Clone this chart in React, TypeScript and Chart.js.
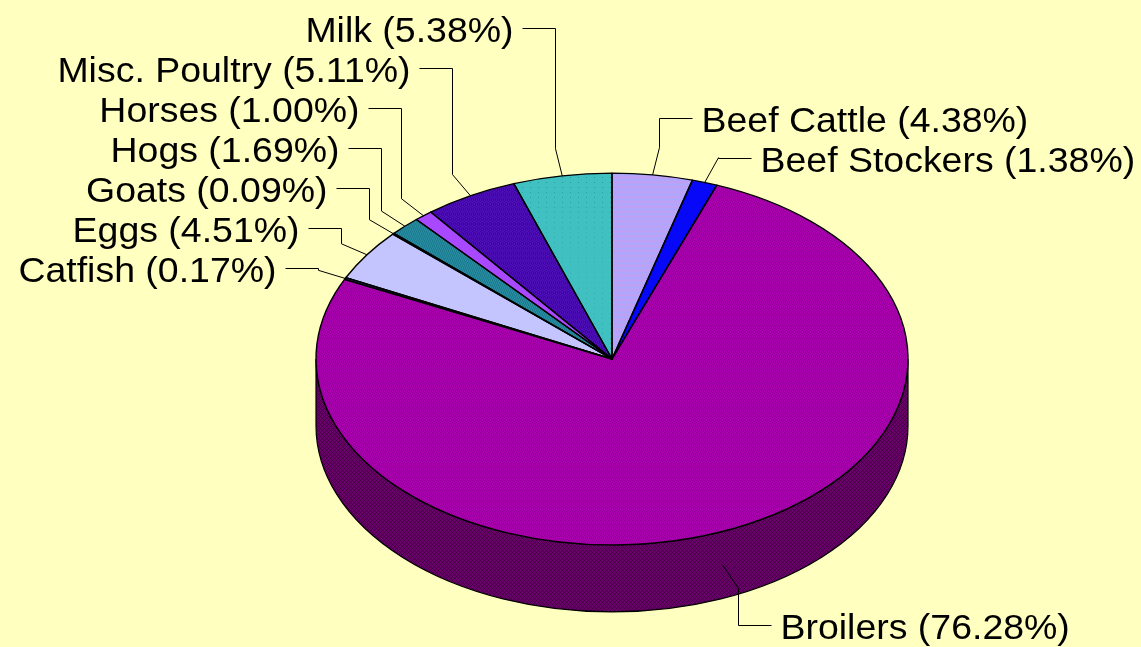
import React, { useEffect, useRef } from 'react';
import { Chart, registerables } from 'chart.js';

Chart.register(...registerables);

// ---- data ----
const categories = [
  'Beef Cattle',
  'Beef Stockers',
  'Broilers',
  'Catfish',
  'Eggs',
  'Goats',
  'Hogs',
  'Horses',
  'Misc. Poultry',
  'Milk',
];
const shares = [4.38, 1.38, 76.28, 0.17, 4.51, 0.09, 1.69, 1.0, 5.11, 5.38];

// ---- styles ----
const topBase = ['#a8a8ff', '#0808f8', '#b000b4', '#203870', '#c4c4ff', '#105858', '#2c90a8', '#a848ff', '#5010b8', '#40c0c0'];
const topInk = ['#c4a0f4', '#0808f8', '#880090', '#203870', '#c4c4ff', '#105858', '#187888', '#a848ff', '#3800a0', '#209c9c'];
const topTexture = ['checker', 'solid', 'cross', 'solid', 'solid', 'solid', 'checker', 'solid', 'cross', 'dots'];
const sideBase = ['#6a66a0', '#000098', '#6a006a', '#101838', '#7a7aa0', '#083030', '#185868', '#6a28a0', '#300870', '#287878'];
const sideInk = ['#5a5690', '#000088', '#420042', '#101838', '#6a6a90', '#083030', '#104858', '#5a1890', '#200060', '#186868'];

const BG = '#ffffc0';
const W = 1141;
const H = 647;
const PIE_LEFT = 316;
const RX = 296;
const CENTER_Y = 359;
const TILT = 0.628;
const DEPTH = 67;
const LEFT_ROW_TOP = 28;
const RIGHT_ROW_TOP = 118;
const ROW_STEP = 40;
const BOTTOM_DROP = 60;
const LEADER_EXT = 28;
const LEADER_RUN = 33;
const TEXT_GAP = 9;
const FONT_PX = 35;
const TEXT_STRETCH = 1.07;
const FONT = `${FONT_PX}px "Liberation Sans", Arial, sans-serif`;

function makePattern(base: string, ink: string, kind: string): any {
  if (kind === 'solid') return base;
  const size = kind === 'dots' ? 8 : 4;
  const c = document.createElement('canvas');
  c.width = size;
  c.height = size;
  const g = c.getContext('2d')!;
  g.fillStyle = base;
  g.fillRect(0, 0, size, size);
  g.fillStyle = ink;
  for (let y = 0; y < size; y++) {
    for (let x = 0; x < size; x++) {
      let on = false;
      if (kind === 'cross') on = (x + y) % 4 === 0 || (x - y + 4) % 4 === 0;
      else if (kind === 'dots') on = x === 2 && y === 2;
      else if (kind === 'checker') on = (x + y) % 2 === 0;
      if (on) g.fillRect(x, y, 1, 1);
    }
  }
  return g.createPattern(c, 'repeat');
}

function geometry(chart: any) {
  const meta = chart.getDatasetMeta(0);
  const arcs = meta.data as any[];
  const p = arcs[0].getProps(['x', 'y', 'outerRadius'], true);
  return { arcs, px: p.x, py: p.y, cx: p.x, cy: CENTER_Y, rx: p.outerRadius, ry: p.outerRadius * TILT };
}

function makePie3dPlugin(sideFills: any[]) {
  return {
    id: 'pie3d',
    beforeDatasetsDraw(chart: any) {
      const ctx = chart.ctx as CanvasRenderingContext2D;
      const { arcs, px, py, cx, cy, rx, ry } = geometry(chart);
      // side wall for the front half
      arcs.forEach((arc, i) => {
        const { startAngle, endAngle } = arc.getProps(['startAngle', 'endAngle'], true);
        for (let k = -1; k <= 1; k++) {
          const lo = Math.max(startAngle, 2 * Math.PI * k);
          const hi = Math.min(endAngle, Math.PI + 2 * Math.PI * k);
          if (hi > lo) {
            ctx.beginPath();
            ctx.ellipse(cx, cy, rx, ry, 0, lo, hi);
            ctx.ellipse(cx, cy + DEPTH, rx, ry, 0, hi, lo, true);
            ctx.closePath();
            ctx.fillStyle = sideFills[i];
            ctx.fill();
            ctx.strokeStyle = '#000';
            ctx.lineWidth = 1.2;
            ctx.stroke();
          }
        }
      });
      ctx.save();
      ctx.translate(cx, cy);
      ctx.scale(1, TILT);
      ctx.translate(-px, -py);
    },
    afterDatasetsDraw(chart: any) {
      const ctx = chart.ctx as CanvasRenderingContext2D;
      ctx.restore();
      const { arcs, cx, cy, rx, ry } = geometry(chart);
      // slice outlines
      ctx.strokeStyle = '#000';
      ctx.lineWidth = 1.4;
      ctx.lineJoin = 'round';
      arcs.forEach((arc) => {
        const { startAngle, endAngle } = arc.getProps(['startAngle', 'endAngle'], true);
        ctx.beginPath();
        ctx.moveTo(cx, cy);
        ctx.ellipse(cx, cy, rx, ry, 0, startAngle, endAngle);
        ctx.closePath();
        ctx.stroke();
      });

      // labels with leader lines
      type Lab = { i: number; ax: number; ay: number; ex: number; ey: number; side: number; row: number; front: boolean };
      const labs: Lab[] = arcs.map((arc, i) => {
        const { startAngle, endAngle } = arc.getProps(['startAngle', 'endAngle'], true);
        const mid = (startAngle + endAngle) / 2;
        const ux = Math.cos(mid);
        const uy = Math.sin(mid);
        const front = uy > 0.2;
        const ax = cx + rx * ux;
        const ay = cy + ry * uy + (front ? DEPTH / 2 : 0);
        const len = Math.hypot(rx * ux, ry * uy);
        const ex = ax + (LEADER_EXT * rx * ux) / len;
        const ey = ay + (LEADER_EXT * ry * uy) / len;
        return { i, ax, ay, ex, ey, side: ux >= 0 ? 1 : -1, row: 0, front };
      });
      const left = labs.filter((l) => !l.front && l.side < 0).sort((a, b) => a.ey - b.ey);
      const right = labs.filter((l) => !l.front && l.side > 0).sort((a, b) => a.ey - b.ey);
      left.forEach((l, k) => (l.row = LEFT_ROW_TOP + ROW_STEP * k));
      right.forEach((l, k) => (l.row = RIGHT_ROW_TOP + ROW_STEP * k));
      labs.filter((l) => l.front).forEach((l) => (l.row = l.ay + BOTTOM_DROP));

      ctx.lineWidth = 1;
      ctx.strokeStyle = '#000';
      ctx.fillStyle = '#000';
      ctx.font = FONT;
      ctx.textBaseline = 'middle';
      labs.forEach((l) => {
        const rowY = Math.round(l.row) + 0.5;
        const ex = Math.round(l.ex) + 0.5;
        const endX = ex + l.side * LEADER_RUN;
        ctx.beginPath();
        ctx.moveTo(l.ax, l.ay);
        ctx.lineTo(ex, l.ey);
        ctx.lineTo(ex, rowY);
        ctx.lineTo(endX, rowY);
        ctx.stroke();
        const text = `${categories[l.i]} (${shares[l.i].toFixed(2)}%)`;
        ctx.save();
        ctx.translate(endX + l.side * TEXT_GAP, l.row + 4);
        ctx.scale(TEXT_STRETCH, 1);
        ctx.textAlign = l.side > 0 ? 'left' : 'right';
        ctx.fillText(text, 0, 0);
        ctx.restore();
      });
    },
  };
}

export default function App() {
  const ref = useRef<HTMLCanvasElement | null>(null);
  useEffect(() => {
    document.body.style.margin = '0';
    document.body.style.background = BG;
    const canvas = ref.current!;
    const topFills = categories.map((_, i) => makePattern(topBase[i], topInk[i], topTexture[i]));
    const sideFills = categories.map((_, i) => makePattern(sideBase[i], sideInk[i], topTexture[i] === 'solid' ? 'solid' : 'cross'));
    const chart = new Chart(canvas, {
      type: 'pie',
      data: {
        labels: categories,
        datasets: [
          {
            data: shares,
            backgroundColor: topFills,
            borderWidth: 0,
            clip: false,
          } as any,
        ],
      },
      options: {
        responsive: false,
        animation: false,
        events: [],
        layout: { padding: { left: PIE_LEFT, right: W - PIE_LEFT - 2 * RX, top: 0, bottom: 0 } },
        plugins: { legend: { display: false }, tooltip: { enabled: false } },
      },
      plugins: [makePie3dPlugin(sideFills)],
    });
    return () => chart.destroy();
  }, []);
  return (
    <div style={{ width: W, height: H, background: BG }}>
      <canvas ref={ref} width={W} height={H} style={{ display: 'block' }} />
    </div>
  );
}
